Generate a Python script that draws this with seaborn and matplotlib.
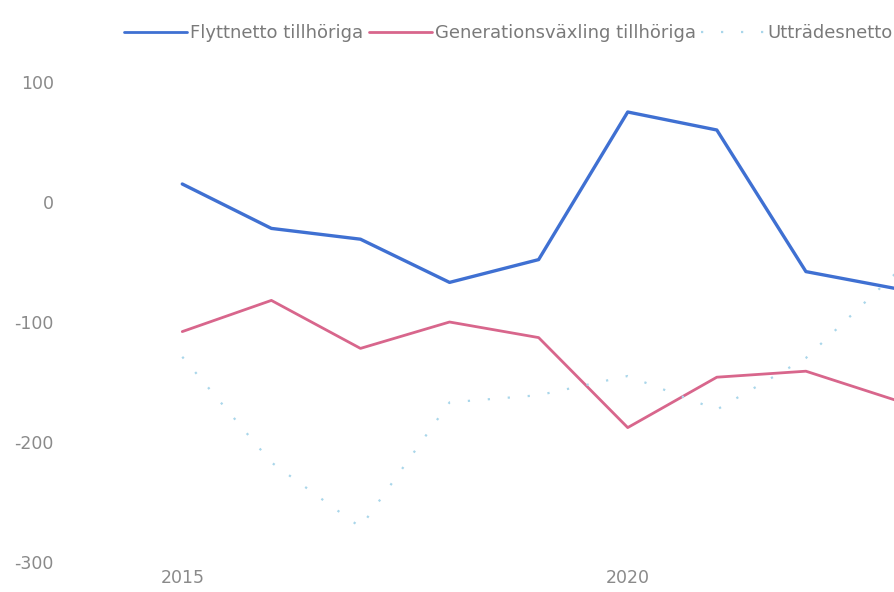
import pandas as pd
import numpy as np
import matplotlib
matplotlib.use('Agg')
import matplotlib.pyplot as plt
import seaborn as sns

years = [2015, 2016, 2017, 2018, 2019, 2020, 2021, 2022, 2023]
flyttnetto = [15, -22, -31, -67, -48, 75, 60, -58, -72]
generationsvaxling = [-108, -82, -122, -100, -113, -188, -146, -141, -165]
uttradesnetto = [-129, -217, -271, -167, -161, -145, -173, -130, -60]

series_names = ['Flyttnetto tillhöriga', 'Generationsväxling tillhöriga', 'Utträdesnetto']
y_ticks = [100, 0, -100, -200, -300]
x_ticks = [2015, 2020]

df = pd.DataFrame({
    'year': years * 3,
    'value': flyttnetto + generationsvaxling + uttradesnetto,
    'serie': np.repeat(series_names, len(years)),
})

sns.set_theme(style='white')
plt.rcParams['font.family'] = ['DejaVu Sans']
plt.rcParams['axes.unicode_minus'] = False

palette = dict(zip(series_names, ['#3f70d2', '#d8668c', '#a9d6ea']))
dashes = dict(zip(series_names, ['', '', (1, 8)]))
widths = [2.4, 2.0, 1.6]

fig = plt.figure(figsize=(8.95, 5.92), dpi=100)
ax = fig.add_axes([62 / 895, 1 - 568 / 592, 833 / 895, (568 - 64) / 592])

sns.lineplot(
    data=df,
    x='year',
    y='value',
    hue='serie',
    style='serie',
    palette=palette,
    dashes=dashes,
    ax=ax,
)
for line, lw in zip(ax.lines, widths):
    line.set_linewidth(lw)

ax.set_xlim(2013.65, 2023.0)
ax.set_ylim(-305, 115)
ax.set_xticks(x_ticks)
ax.set_xticklabels([str(t) for t in x_ticks])
ax.set_yticks(y_ticks)
ax.set_yticklabels([str(t) for t in y_ticks])
ax.tick_params(axis='y', length=0, labelsize=12.5, labelcolor='#8a8a8a', pad=6)
ax.tick_params(axis='x', length=0, labelsize=12.5, labelcolor='#8a8a8a', pad=1)
ax.set_xlabel('')
ax.set_ylabel('')
sns.despine(ax=ax, left=True, bottom=True)

handles, labels = ax.get_legend_handles_labels()
for h, lw in zip(handles, [2.0, 2.0, 1.6]):
    h.set_linewidth(lw)
ax.get_legend().remove()
fig.legend(
    handles, labels,
    loc='center left',
    bbox_to_anchor=(108 / 895, 1 - 33 / 592),
    ncol=3,
    frameon=False,
    fontsize=13,
    labelcolor='#7a7a7a',
    handlelength=3.5,
    handletextpad=0.15,
    columnspacing=0.3,
)

fig.savefig('out.png', dpi=100)
